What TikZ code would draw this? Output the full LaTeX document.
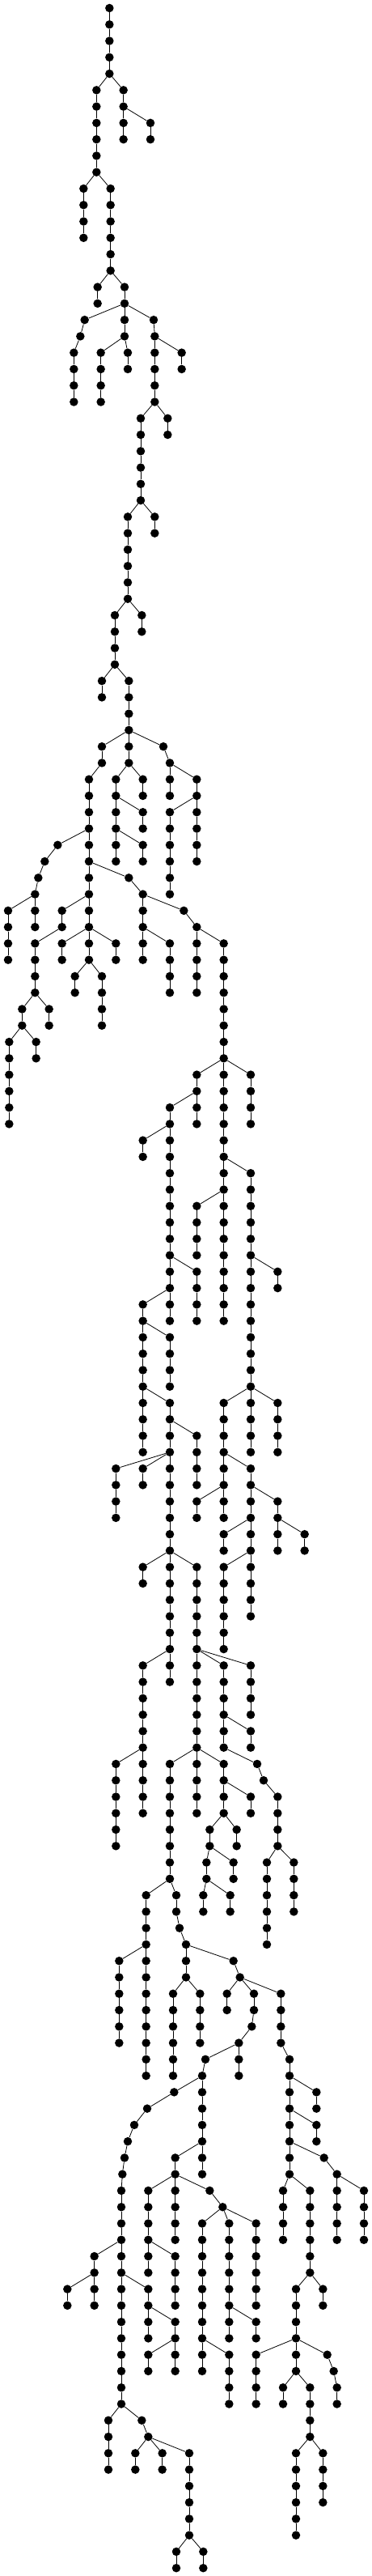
\documentclass[tikz,border=0pt]{standalone}
\usepackage{tikz}

\newcommand{\twig}[5]{%
  \foreach \k in {#3,...,#4} {\node[dot] (#1-\k) at (#2,\k) {};}
  \foreach \k [remember=\k as \kp (initially #3)] in {#3,...,#4} {%
    \ifnum\k>#3\relax \draw[link] (#1-\kp) -- (#1-\k);\fi}
  \ifx\relax#5\relax\else\draw[link] (#5) -- (#1-#3);\fi}

\begin{document}
\begin{tikzpicture}[x=0.33333pt, y=-20.27pt,
  dot/.style={circle, fill=black, inner sep=0pt, minimum size=10.5pt},
  link/.style={line width=0.8pt}]
\useasboundingbox (0,-0.4933) rectangle (1380,156.485);
\twig{A}{406}{0}{4}{}
\twig{B}{358}{5}{10}{A-4}
\twig{C}{458}{5}{8}{A-4}
\twig{D}{558}{7}{8}{C-6}
\twig{E}{310}{11}{14}{B-10}
\twig{F}{410}{11}{16}{B-10}
\twig{G}{362}{17}{18}{F-16}
\twig{H}{462}{17}{20}{F-16}
\twig{I}{314}{19}{19}{H-18}
\twig{J}{298}{20}{20}{I-19}
\twig{K}{274}{21}{24}{J-20}
\twig{L}{374}{21}{24}{H-20}
\twig{M}{474}{21}{22}{H-20}
\twig{N}{570}{19}{19}{H-18}
\twig{O}{574}{20}{24}{N-19}
\twig{P}{674}{21}{22}{O-20}
\twig{Q}{522}{25}{30}{O-24}
\twig{R}{622}{25}{26}{O-24}
\twig{S}{474}{31}{36}{Q-30}
\twig{T}{574}{31}{32}{Q-30}
\twig{U}{426}{37}{40}{S-36}
\twig{V}{526}{37}{38}{S-36}
\twig{W}{378}{41}{42}{U-40}
\twig{X}{478}{41}{44}{U-40}
\twig{Y}{378}{45}{46}{X-44}
\twig{Z}{478}{45}{46}{X-44}
\twig{a1}{606}{45}{45}{X-44}
\twig{a2}{630}{46}{46}{a1-45}
\twig{b1}{330}{47}{58}{Y-46}
\twig{b2}{214}{51}{51}{b1-50}
\twig{b3}{166}{52}{52}{b2-51}
\twig{b4}{142}{53}{53}{b3-52}
\twig{b5}{130}{54}{56}{b4-53}
\twig{b6}{30}{55}{58}{b5-54}
\twig{c1}{430}{47}{52}{Z-46}
\twig{c2}{530}{47}{48}{Z-46}
\twig{c3}{530}{49}{50}{c1-48}
\twig{c4}{530}{51}{52}{c1-50}
\twig{c5}{630}{47}{48}{a2-46}
\twig{c6}{730}{47}{52}{a2-46}
\twig{c7}{630}{49}{54}{c6-48}
\twig{e1}{230}{55}{56}{b1-54}
\twig{e2}{130}{57}{60}{e1-56}
\twig{e3}{82}{61}{62}{e2-60}
\twig{e4}{182}{61}{62}{e2-60}
\twig{e5}{34}{63}{68}{e3-62}
\twig{e6}{134}{63}{64}{e3-62}
\twig{e7}{230}{57}{58}{b1-56}
\twig{e8}{430}{57}{58}{b1-56}
\twig{e9}{278}{59}{60}{b1-58}
\twig{e10}{378}{59}{62}{b1-58}
\twig{d1}{478}{53}{53}{b1-52}
\twig{d2}{530}{54}{58}{d1-53}
\twig{d3}{630}{57}{60}{d2-56}
\twig{d4}{682}{55}{55}{d2-54}
\twig{d5}{730}{56}{60}{d4-55}
\twig{d6}{830}{57}{80}{d5-56}
\twig{d7}{730}{65}{68}{d6-64}
\twig{d8}{930}{65}{68}{d6-64}
\twig{d9}{630}{67}{80}{d7-66}
\twig{d10}{530}{69}{70}{d9-68}
\twig{d11}{730}{77}{80}{d9-76}
\twig{d12}{930}{71}{88}{d6-70}
\twig{d13}{1030}{77}{78}{d12-76}
\twig{d14}{730}{73}{76}{d6-72}
\twig{d15}{530}{79}{88}{d9-78}
\twig{d16}{630}{81}{84}{d15-80}
\twig{d17}{630}{85}{102}{d15-84}
\twig{d18}{730}{87}{90}{d17-86}
\twig{d19}{430}{89}{92}{d17-88}
\twig{d20}{530}{89}{90}{d17-88}
\twig{d21}{830}{85}{92}{d12-84}
\twig{d22}{1030}{85}{88}{d12-84}
\twig{d23}{930}{89}{98}{d21-88}
\twig{d24}{730}{91}{92}{d21-90}
\twig{d25}{1030}{91}{94}{d23-90}
\twig{d26}{1130}{93}{94}{d25-92}
\twig{d27}{830}{93}{94}{d23-92}
\twig{d28}{830}{95}{100}{d23-94}
\twig{d29}{530}{95}{96}{d17-94}
\twig{d30}{730}{95}{110}{d17-94}
\twig{d31}{530}{101}{110}{d17-100}
\twig{d32}{430}{107}{112}{d31-106}
\twig{d33}{830}{101}{106}{d30-100}
\twig{d34}{930}{101}{104}{d30-100}
\twig{d35}{930}{105}{106}{d33-104}
\twig{d36}{954}{107}{107}{d33-106}
\twig{d37}{978}{108}{108}{d36-107}
\twig{d38}{1030}{109}{112}{d37-108}
\twig{d39}{990}{113}{118}{d38-112}
\twig{d40}{1090}{113}{116}{d38-112}
\twig{d41}{630}{107}{114}{d30-106}
\twig{d42}{830}{107}{110}{d30-106}
\twig{d43}{930}{109}{110}{d42-108}
\twig{d44}{878}{111}{112}{d42-110}
\twig{d45}{778}{111}{112}{d42-110}
\twig{d46}{766}{113}{114}{d45-112}
\twig{d47}{866}{113}{114}{d45-112}
\twig{d48}{754}{115}{116}{d46-114}
\twig{d49}{854}{115}{116}{d46-114}
\twig{d50}{542}{115}{126}{d41-114}
\twig{d51}{442}{119}{124}{d50-118}
\twig{d52}{654}{115}{116}{d41-114}
\twig{d53}{666}{117}{117}{d52-116}
\twig{d54}{690}{118}{120}{d53-117}
\twig{d55}{642}{121}{126}{d54-120}
\twig{d56}{742}{121}{124}{d54-120}
\twig{d57}{866}{119}{119}{d54-118}
\twig{d58}{890}{120}{120}{d57-119}
\twig{d59}{842}{121}{122}{d58-120}
\twig{d60}{942}{121}{122}{d58-120}
\twig{d61}{934}{123}{123}{d60-122}
\twig{d62}{886}{124}{126}{d61-123}
\twig{d63}{762}{125}{125}{d62-124}
\twig{d64}{750}{126}{132}{d63-125}
\twig{d65}{646}{127}{127}{d64-126}
\twig{d66}{546}{128}{128}{d65-127}
\twig{d67}{498}{129}{129}{d66-128}
\twig{d68}{474}{130}{130}{d67-129}
\twig{d69}{462}{131}{131}{d68-130}
\twig{d70}{454}{132}{132}{d69-131}
\twig{d71}{450}{133}{146}{d70-132}
\twig{d72}{350}{137}{140}{d71-136}
\twig{d73}{250}{139}{140}{d72-138}
\twig{d74}{550}{139}{142}{d71-138}
\twig{d75}{650}{141}{144}{d74-140}
\twig{d76}{550}{143}{144}{d75-142}
\twig{d77}{402}{147}{150}{d71-146}
\twig{d78}{526}{147}{147}{d71-146}
\twig{d79}{550}{148}{148}{d78-147}
\twig{d80}{502}{149}{150}{d79-148}
\twig{d81}{602}{149}{150}{d79-148}
\twig{d82}{702}{149}{154}{d79-148}
\twig{d83}{654}{155}{156}{d82-154}
\twig{d84}{754}{155}{156}{d82-154}
\twig{d85}{650}{131}{136}{d64-130}
\twig{d86}{550}{133}{138}{d85-132}
\twig{d87}{650}{137}{140}{d86-136}
\twig{d88}{778}{133}{133}{d85-132}
\twig{d89}{826}{134}{134}{d88-133}
\twig{d90}{750}{135}{144}{d89-134}
\twig{d91}{850}{143}{146}{d90-142}
\twig{d92}{850}{135}{142}{d89-134}
\twig{d93}{950}{141}{142}{d92-140}
\twig{d94}{950}{135}{140}{d89-134}
\twig{d95}{1042}{121}{124}{d58-120}
\twig{d96}{1074}{125}{132}{d95-124}
\twig{d97}{1174}{127}{128}{d96-126}
\twig{d98}{1174}{129}{130}{d96-128}
\twig{d99}{1202}{131}{131}{d96-130}
\twig{d100}{1250}{132}{136}{d99-131}
\twig{d101}{1350}{133}{136}{d100-132}
\twig{d102}{1050}{133}{136}{d96-132}
\twig{d103}{1150}{133}{138}{d96-132}
\twig{d104}{1198}{139}{140}{d103-138}
\twig{d105}{1098}{139}{144}{d103-138}
\twig{d106}{950}{143}{146}{d105-142}
\twig{d107}{1214}{143}{143}{d105-142}
\twig{d108}{1238}{144}{144}{d107-143}
\twig{d109}{1250}{145}{146}{d108-144}
\twig{d110}{1050}{145}{146}{d105-144}
\twig{d111}{1150}{145}{148}{d105-144}
\twig{d112}{1098}{149}{154}{d111-148}
\twig{d113}{1198}{149}{152}{d111-148}
\end{tikzpicture}
\end{document}
